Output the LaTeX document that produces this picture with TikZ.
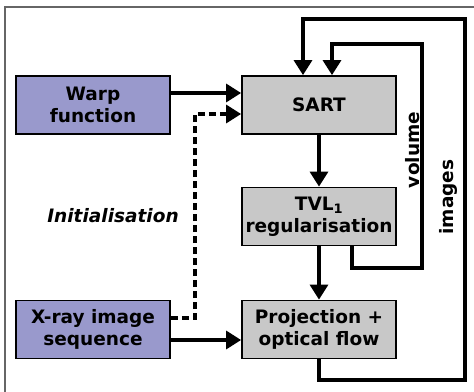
\documentclass[tikz,border=0pt]{standalone}
\usepackage{fontspec}
\setmainfont{DejaVu Sans}
\usetikzlibrary{arrows.meta}
\definecolor{boxpurple}{HTML}{9999CC}
\definecolor{boxgray}{HTML}{C8C8C8}
\definecolor{framegray}{HTML}{666666}
\tikzset{
  blockbox/.style={draw=black, line width=1.8pt, minimum width=154pt, minimum height=58pt,
    align=center, inner sep=0pt, font=\fontsize{18.5}{21.5}\selectfont\bfseries},
  inbox/.style={blockbox, fill=boxpurple},
  procbox/.style={blockbox, fill=boxgray},
  arr/.style={line width=3.3pt, -{Triangle[length=15pt,width=18pt]}},
  dasharr/.style={arr, dash pattern=on 7pt off 4pt},
  lbl/.style={font=\fontsize{18.5}{21.5}\selectfont\bfseries}
}
\begin{document}
\begin{tikzpicture}[x=1pt,y=-1pt]
\useasboundingbox (0,0) rectangle (474,391);
\draw[framegray, line width=1.5pt] (5,400) -- (5,7) -- (480,7);
\node[inbox] (warp) at (93,105) {Warp\\function};
\node[procbox] (sart) at (319,105) {SART};
\node[procbox] (tvl) at (319,216.5) {TVL\textsubscript{1}\\regularisation};
\node[procbox] (proj) at (319,329.5) {Projection +\\optical flow};
\node[inbox] (xray) at (93,329.5) {X-ray image\\sequence};
\node[lbl, font=\fontsize{18.5}{21.5}\selectfont\bfseries\itshape] (init) at (113,216) {Initialisation};
\node[lbl, rotate=90] (vol) at (413,150) {volume};
\node[lbl, rotate=90] (img) at (448,197) {images};
\draw[arr] (warp.east |- 0,93) -- (sart.west |- 0,93);
\draw[dasharr] (xray.east |- 0,318) -- (195,318) -- (195,114) -- (sart.west |- 0,114);
\draw[arr] (xray.east |- 0,340) -- (proj.west |- 0,340);
\draw[arr] (sart.south) -- (tvl.north);
\draw[arr] (tvl.south) -- (proj.north);
\draw[arr] (tvl.south -| 352,0) -- (352,268) -- (422,268) -- (422,44) -- (332,44) -- (sart.north -| 332,0);
\draw[arr] (proj.south) -- (319,380) -- (465,380) -- (465,19) -- (303,19) -- (sart.north -| 303,0);
\end{tikzpicture}
\end{document}
